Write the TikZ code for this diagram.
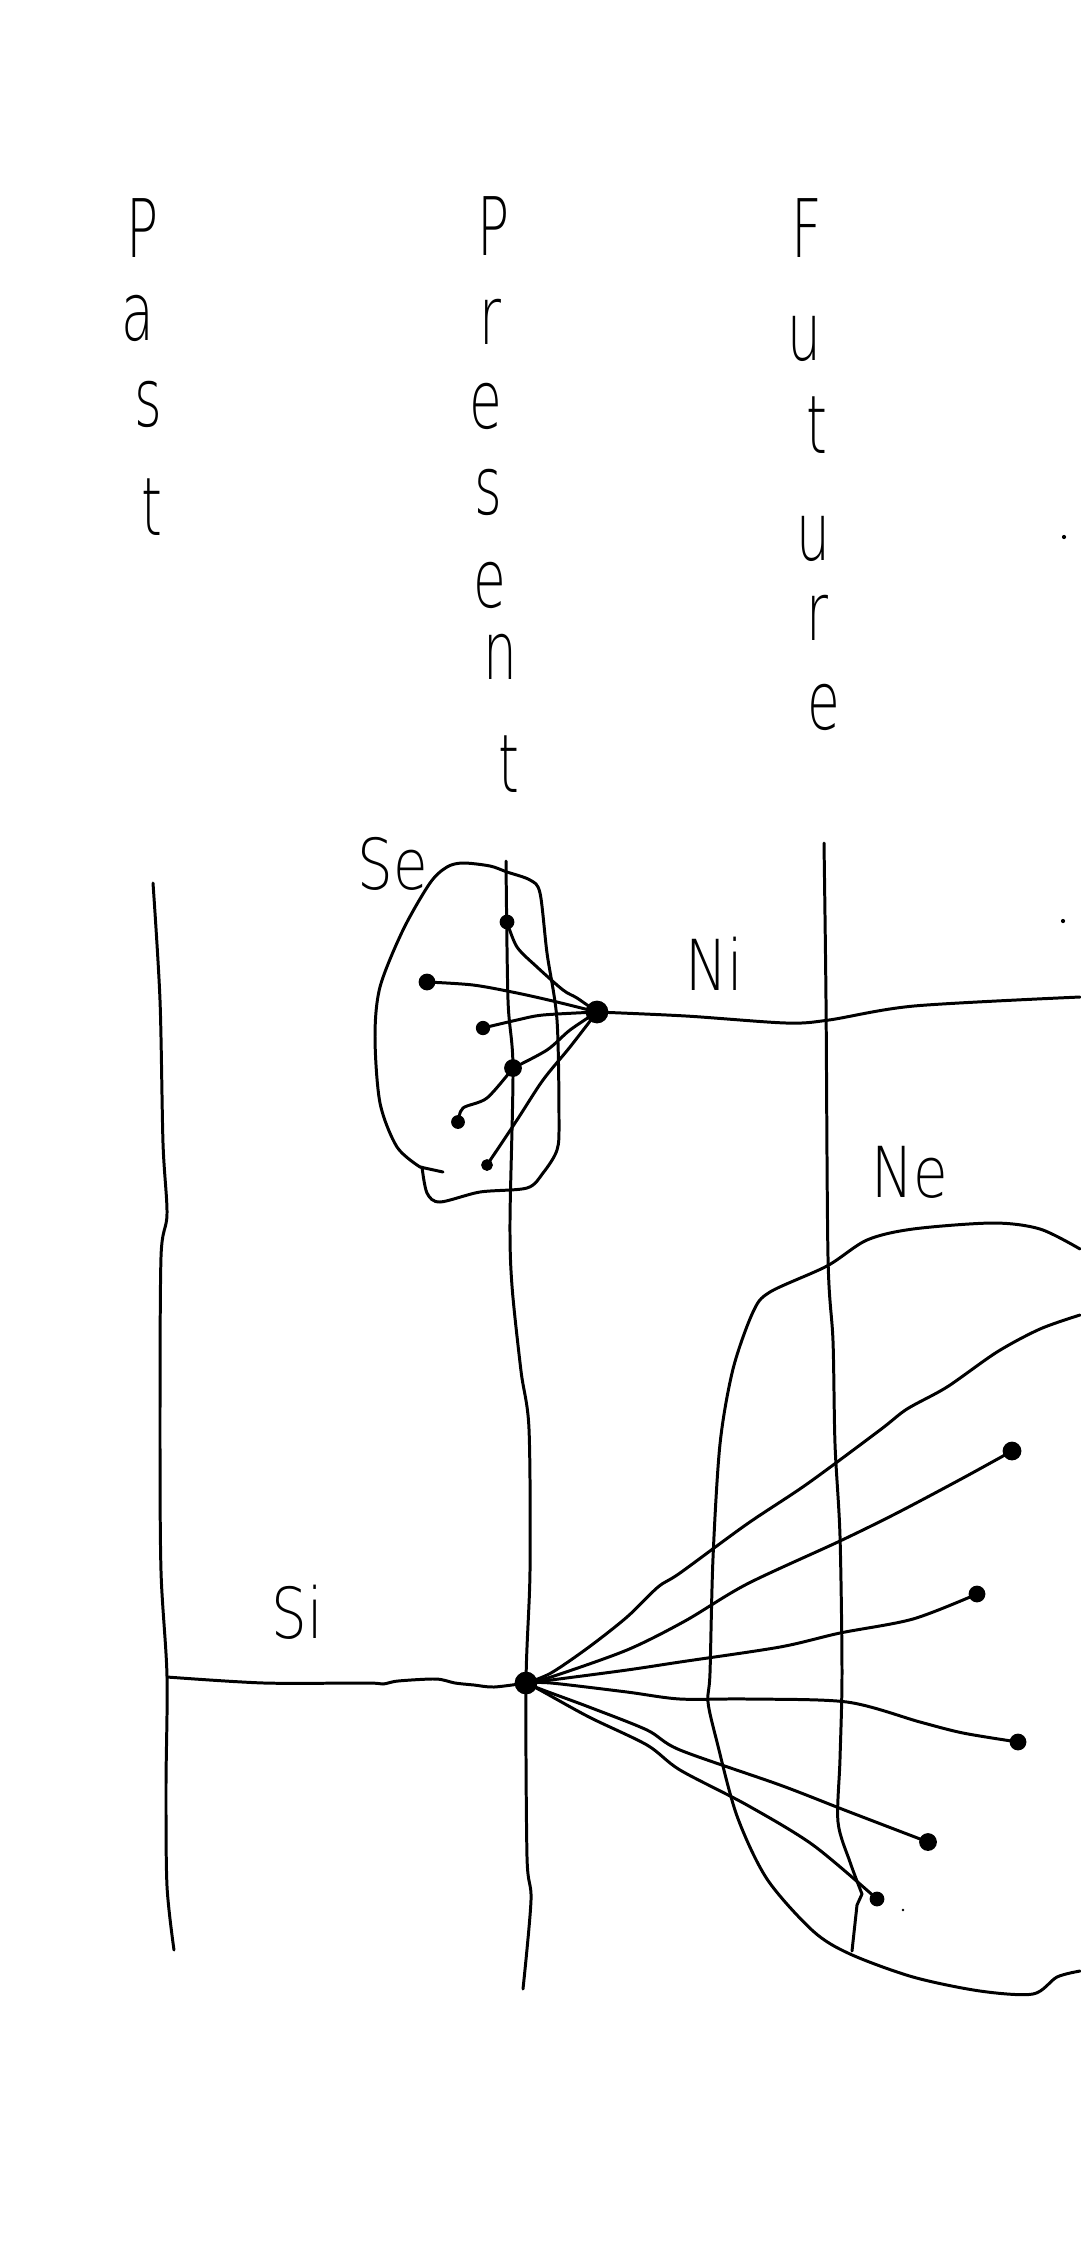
\documentclass[tikz,border=0pt]{standalone}
\usepackage{fontspec}
\newfontfamily\hand{DejaVu Sans ExtraLight}
\begin{document}
\begin{tikzpicture}[x=0.02cm,y=-0.02cm,line cap=round,line join=round,
  ink/.style={line width=1.7pt,black},
  dot/.style={circle,fill=black,draw=black,line width=1pt,inner sep=0pt},
  letter/.style={font=\hand\fontsize{46}{48}\selectfont,inner sep=0pt,xscale=0.66},
  lab/.style={font=\hand\fontsize{40}{44}\selectfont,inner sep=0pt,xscale=0.8}]
\fill[white] (0,0) rectangle (1080,2241);
\path[use as bounding box] (0,0) rectangle (1080,2241);

% column titles
\foreach \c/\x/\y [count=\i] in {P/143/228,a/138/318,s/148/404,t/152/507}
  \node[letter] (past\i) at (\x,\y) {\c};
\foreach \c/\x/\y [count=\i] in {P/494/226,r/490/322,e/486/406,s/488/492,e/490/585,n/500/657,t/509/764}
  \node[letter] (pres\i) at (\x,\y) {\c};
\foreach \c/\x/\y [count=\i] in {F/807/228,u/804/339,t/817/425,u/813/539,r/817/618,e/824/707}
  \node[letter] (fut\i) at (\x,\y) {\c};

% labels
\node[lab] (lse) at (393,864) {Se};
\node[lab] (lni) at (714,964) {Ni};
\node[lab] (lne) at (910,1172) {Ne};
\node[lab] (lsi) at (297,1612) {Si};

% time lines
\draw[ink] plot[smooth] coordinates {(153,883) (160,1000) (163,1143) (167,1214) (161,1257) (160,1429) (161,1571) (167,1676) (166,1786) (167,1886) (174,1950)};
\draw[ink] plot[smooth] coordinates {(506,861) (508,1000) (513,1068) (510,1220) (512,1286) (521,1371) (529,1429) (530,1571) (526,1683) (527,1857) (531,1900) (523,1989)};
\draw[ink] plot[smooth] coordinates {(824,843) (826,1000) (828,1257) (833,1341) (835,1444) (840,1536) (842,1673) (840,1759) (838,1822) (850,1862) (862,1894)} -- (857,1905) -- (852,1951);

% Se blob
\draw[ink] plot[smooth] coordinates {(420,1167) (397,1147) (380,1103) (375,1037) (380,987) (403,930) (430,883) (447,867) (463,863) (490,866) (507,872) (530,880) (540,893) (547,953) (557,1020) (559,1120) (557,1150) (543,1173) (527,1188) (480,1192) (440,1202) (427,1193) (422,1167)};
\draw[ink] (420,1167) -- (443,1172);

% Ne blob
\draw[ink] plot[smooth] coordinates {(1080,1249) (1040,1229) (993,1223) (913,1229) (867,1240) (827,1266) (770,1292) (753,1312) (733,1369) (720,1444) (713,1558) (710,1673) (708,1702) (717,1742) (737,1816) (767,1879) (813,1931) (850,1954) (913,1977) (980,1991) (1033,1994) (1057,1977) (1080,1971)};

% Se nodes
\node[dot,minimum size=0.42cm] (hubN) at (597,1012) {};
\node[dot,minimum size=0.26cm] (n1) at (507,922) {};
\node[dot,minimum size=0.30cm] (n2) at (427,982) {};
\node[dot,minimum size=0.25cm] (n3) at (483,1028) {};
\node[dot,minimum size=0.32cm] (n4) at (513,1068) {};
\node[dot,minimum size=0.24cm] (n5) at (458,1122) {};
\node[dot,minimum size=0.20cm] (n6) at (487,1165) {};
\coordinate (niR) at (1080,997);

\draw[ink] plot[smooth] coordinates {(n1) (517,947) (537,967) (563,990) (577,998) (hubN)};
\draw[ink] plot[smooth] coordinates {(n2) (473,985) (517,993) (557,1002) (hubN)};
\draw[ink] plot[smooth] coordinates {(n3) (517,1020) (543,1015) (hubN)};
\draw[ink] plot[smooth] coordinates {(n4) (547,1050) (570,1030) (hubN)};
\draw[ink] plot[smooth] coordinates {(n5) (463,1108) (487,1098) (n4)};
\draw[ink] plot[smooth] coordinates {(n6) (517,1120) (543,1080) (570,1047) (hubN)};
\draw[ink] plot[smooth] coordinates {(hubN) (686,1016) (786,1023) (829,1020) (914,1006) (niR)};

% Si nodes
\node[dot,minimum size=0.42cm] (hubS) at (526,1683) {};
\node[dot,minimum size=0.34cm] (d1) at (1012,1451) {};
\node[dot,minimum size=0.30cm] (d2) at (977,1594) {};
\node[dot,minimum size=0.30cm] (d3) at (1018,1742) {};
\node[dot,minimum size=0.32cm] (d4) at (928,1842) {};
\node[dot,minimum size=0.26cm] (d5) at (877,1899) {};
\coordinate (siL) at (167,1677);
\coordinate (f1) at (1080,1315);

\draw[ink] plot[smooth] coordinates {(siL) (264,1683) (367,1683) (383,1684) (398,1681) (436,1679) (455,1683) (474,1685) (494,1687) (hubS)};
\draw[ink] plot[smooth] coordinates {(hubS) (551,1673) (589,1647) (627,1617) (658,1587) (680,1573) (747,1524) (807,1484) (880,1430) (907,1409) (947,1387) (997,1352) (1040,1329) (f1)};
\draw[ink] plot[smooth] coordinates {(hubS) (551,1677) (627,1650) (685,1621) (747,1584) (840,1541) (897,1513) (963,1478) (d1)};
\draw[ink] plot[smooth] coordinates {(hubS) (551,1680) (627,1670) (680,1662) (780,1647) (840,1633) (913,1619) (d2)};
\draw[ink] plot[smooth] coordinates {(hubS) (551,1683) (627,1692) (680,1699) (747,1699) (847,1702) (920,1722) (963,1733) (d3)};
\draw[ink] plot[smooth] coordinates {(hubS) (543,1690) (589,1707) (647,1730) (680,1750) (780,1785) (847,1811) (d4)};
\draw[ink] plot[smooth] coordinates {(hubS) (540,1690) (589,1717) (647,1745) (680,1770) (747,1805) (813,1845) (d5)};

% specks
\fill (1064,537) circle (1.2pt);
\fill (1063,921) circle (1.2pt);
\fill (903,1910) circle (0.8pt);
\end{tikzpicture}
\end{document}
